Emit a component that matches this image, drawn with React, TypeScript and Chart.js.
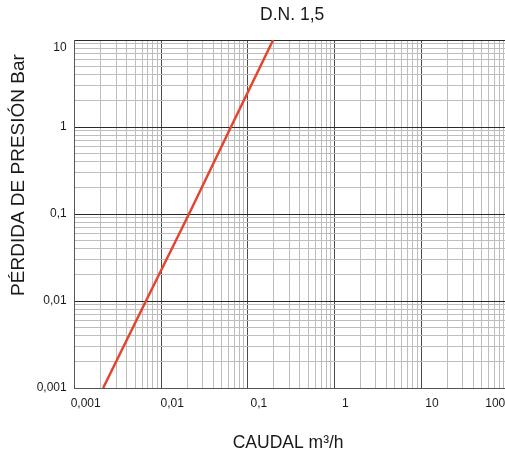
import React, { useEffect, useRef } from "react";
import { Chart, registerables } from "chart.js";

Chart.register(...registerables);

// Data (log-log chart)
const FLOW = [0.00213, 0.00665, 0.0209, 0.0638, 0.196]; // CAUDAL m³/h
const LOSS = [0.001, 0.01, 0.1, 1, 10]; // PÉRDIDA DE PRESIÓN Bar

const X_TICKS = [0.001, 0.01, 0.1, 1, 10, 100];
const X_LABELS = ["0,001", "0,01", "0,1", "1", "10", "100"];
const Y_TICKS = [0.001, 0.01, 0.1, 1, 10];
const Y_LABELS = ["0,001", "0,01", "0,1", "1", "10"];

const TITLE = "D.N. 1,5";
const X_TITLE = "CAUDAL m³/h";
const Y_TITLE = "PÉRDIDA DE PRESIÓN Bar";

const FONT = "'Liberation Sans', Arial, Helvetica, sans-serif";

function logGrid(min: number, max: number): { value: number }[] {
  const out: { value: number }[] = [];
  const e0 = Math.floor(Math.log10(min) + 1e-9);
  const e1 = Math.ceil(Math.log10(max) - 1e-9);
  for (let e = e0; e <= e1; e++) {
    for (let m = 1; m <= 9; m++) {
      const v = parseFloat((m * Math.pow(10, e)).toPrecision(12));
      if (v >= min * 0.999999 && v <= max * 1.000001) out.push({ value: v });
    }
  }
  if (!out.length || Math.abs(out[out.length - 1].value - max) > max * 1e-6) out.push({ value: max });
  return out;
}

function findIdx(list: number[], v: number): number {
  return list.findIndex((t) => Math.abs(Math.log10(t) - Math.log10(v)) < 1e-6);
}

function isDecade(v: number): boolean {
  const l = Math.log10(v);
  return Math.abs(l - Math.round(l)) < 1e-6;
}

const titlesPlugin = {
  id: "customTitles",
  afterDraw(chart: any) {
    const { ctx, chartArea } = chart;
    const cx = (chartArea.left + chartArea.right) / 2;
    ctx.save();
    ctx.fillStyle = "#1a1a1a";
    ctx.textAlign = "center";
    ctx.textBaseline = "middle";
    ctx.font = `17.5px ${FONT}`;
    ctx.fillText(TITLE, cx + 1, chartArea.top - 25);
    ctx.fillText(X_TITLE, cx - 3, chartArea.bottom + 55);
    ctx.translate(19, chartArea.top + 135);
    ctx.rotate(-Math.PI / 2);
    ctx.font = `19px ${FONT}`;
    ctx.fillText(Y_TITLE, 0, 0);
    ctx.restore();
  },
};

export default function App() {
  const ref = useRef<HTMLCanvasElement | null>(null);

  useEffect(() => {
    if (!ref.current) return;
    const chart = new Chart(ref.current, {
      type: "line",
      data: {
        datasets: [
          {
            data: FLOW.map((x, i) => ({ x, y: LOSS[i] })),
            borderColor: "#e5452f",
            backgroundColor: "#e5452f",
            borderWidth: 2.5,
            pointRadius: 0,
            tension: 0,
          },
        ],
      },
      options: {
        animation: false,
        responsive: false,
        events: [],
        layout: { padding: { left: 0, right: 52.4, top: 40, bottom: 0 } },
        plugins: { legend: { display: false }, tooltip: { enabled: false }, title: { display: false } },
        scales: {
          x: {
            type: "logarithmic",
            min: X_TICKS[0],
            max: X_TICKS[X_TICKS.length - 1],
            afterBuildTicks: (scale: any) => {
              scale.ticks = logGrid(scale.min, scale.max);
            },
            afterFit: (scale: any) => {
              scale.height = 64;
            },
            border: { display: true, color: "#555", width: 1 },
            grid: {
              drawTicks: false,
              lineWidth: 1,
              color: (c: any) => (c.tick && isDecade(c.tick.value) ? "#4a4a4a" : "#bdbdbd"),
            },
            ticks: {
              autoSkip: false,
              maxRotation: 0,
              minRotation: 0,
              padding: 8,
              labelOffset: 11,
              color: "#1a1a1a",
              font: { family: FONT, size: 12 },
              callback: (value: any) => {
                const i = findIdx(X_TICKS, Number(value));
                if (i < 0) return "";
                return i === X_TICKS.length - 1 ? X_LABELS[i] + " ".repeat(14) : X_LABELS[i];
              },
            },
          },
          y: {
            type: "logarithmic",
            min: Y_TICKS[0],
            max: Y_TICKS[Y_TICKS.length - 1],
            afterBuildTicks: (scale: any) => {
              scale.ticks = logGrid(scale.min, scale.max);
            },
            afterFit: (scale: any) => {
              scale.width = 74.7;
            },
            border: { display: true, color: "#555", width: 1 },
            grid: {
              drawTicks: false,
              lineWidth: 1,
              color: (c: any) => (c.tick && isDecade(c.tick.value) ? "#2a2a2a" : "#bdbdbd"),
            },
            ticks: {
              autoSkip: false,
              padding: 8,
              color: "#1a1a1a",
              font: { family: FONT, size: 12 },
              callback: (value: any) => {
                const i = findIdx(Y_TICKS, Number(value));
                if (i < 0) return "";
                return i === Y_TICKS.length - 1 ? ["", Y_LABELS[i]] : Y_LABELS[i];
              },
            },
          },
        },
      },
      plugins: [titlesPlugin],
    } as any);
    return () => chart.destroy();
  }, []);

  return (
    <div
      style={{
        position: "fixed",
        left: 0,
        top: 0,
        width: 505,
        height: 452,
        overflow: "hidden",
        background: "#fff",
      }}
    >
      <canvas ref={ref} width={560} height={452} style={{ display: "block", width: 560, height: 452 }} />
    </div>
  );
}
